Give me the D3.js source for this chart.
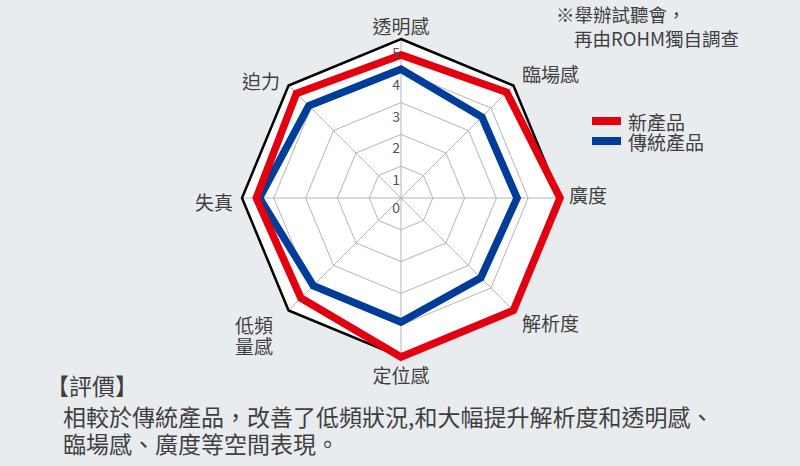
<!DOCTYPE html>
<html>
<head>
<meta charset="utf-8">
<script src="https://cdn.jsdelivr.net/npm/d3@7"></script>
<style>
  body { margin: 0; background: #e9ecef; }
  svg { display: block; font-family: "Noto Sans CJK TC", "Noto Sans", sans-serif; }
</style>
</head>
<body>
<div class="canvas"></div>
<script>
// data
const axes = ["透明感", "臨場感", "廣度", "解析度", "定位感", "低頻\n量感", "失真", "迫力"];
const newProduct = [4.5, 4.7, 5.0, 5.0, 5.0, 4.45, 4.55, 4.65];
const oldProduct = [4.05, 3.6, 3.65, 3.55, 3.9, 3.9, 4.45, 4.1];
const seriesNames = ["新產品", "傳統產品"];
const ticks = [0, 1, 2, 3, 4, 5];
const note = ["※舉辦試聽會，", "再由ROHM獨自調查"];
const comment = [
  "【評價】",
  "相較於傳統產品，改善了低頻狀況,和大幅提升解析度和透明感、",
  "臨場感、廣度等空間表現。"
];

const dims = { width: 800, height: 466, radius: 159 };
const cord = { x: 401, y: 198 };
const colors = { new: "#e3000f", old: "#003d99", grid: "#b4b4b4", text: "#3f3f3f" };

const svg = d3
  .select(".canvas")
  .append("svg")
  .attr("width", dims.width)
  .attr("height", dims.height);

svg.append("rect").attr("width", dims.width).attr("height", dims.height).attr("fill", "#e9ecef");

const group = svg.append("g").attr("transform", `translate(${cord.x}, ${cord.y})`);

const r = d3.scaleLinear().domain([0, 5]).range([0, dims.radius]);
const angle = d3.scalePoint().domain(d3.range(axes.length)).range([0, 2 * Math.PI * (axes.length - 1) / axes.length]);

const radial = d3
  .lineRadial()
  .angle((d, i) => angle(i))
  .radius((d) => r(d))
  .curve(d3.curveLinearClosed);

const polar = (i, rad) => [Math.sin(angle(i)) * rad, -Math.cos(angle(i)) * rad];

// plot area
group.append("path").attr("d", radial(axes.map(() => 5))).attr("fill", "#fff");

// grid rings
group
  .selectAll(".ring")
  .data(ticks.filter((t) => t > 0 && t < 5))
  .enter()
  .append("path")
  .attr("class", "ring")
  .attr("d", (t) => radial(axes.map(() => t)))
  .attr("fill", "none")
  .attr("stroke", colors.grid)
  .attr("stroke-width", 1);

// spokes
group
  .selectAll(".spoke")
  .data(axes)
  .enter()
  .append("line")
  .attr("x1", 0)
  .attr("y1", 0)
  .attr("x2", (d, i) => polar(i, r(5))[0])
  .attr("y2", (d, i) => polar(i, r(5))[1])
  .attr("stroke", colors.grid)
  .attr("stroke-width", 1);

// outer frame
group
  .append("path")
  .attr("d", radial(axes.map(() => 5)))
  .attr("fill", "none")
  .attr("stroke", "#000")
  .attr("stroke-width", 2.5);

// series (old first, new on top)
[
  { values: oldProduct, color: colors.old },
  { values: newProduct, color: colors.new }
].forEach((s) => {
  group
    .append("path")
    .attr("d", radial(s.values))
    .attr("fill", "none")
    .attr("stroke", s.color)
    .attr("stroke-width", 7.5)
    .attr("stroke-linejoin", "miter");
});

// tick labels
group
  .selectAll(".tick")
  .data(ticks)
  .enter()
  .append("text")
  .attr("x", -1)
  .attr("y", (t) => -r(t) + (t === 0 ? 9 : 13))
  .attr("text-anchor", "end")
  .attr("dominant-baseline", "central")
  .attr("font-size", 14)
  .attr("fill", "#555")
  .text((t) => t);

// axis labels
const labels = group
  .selectAll(".axis-label")
  .data(axes)
  .enter()
  .append("text")
  .attr("font-size", 19)
  .attr("fill", colors.text)
  .attr("dominant-baseline", "central")
  .attr("text-anchor", (d, i) => {
    const s = Math.sin(angle(i));
    return Math.abs(s) < 0.01 ? "middle" : s > 0 ? "start" : "end";
  })
  .attr("transform", (d, i) => {
    const s = Math.sin(angle(i));
    const c = Math.cos(angle(i));
    let off = 12;
    if (Math.abs(c) < 0.01) off = 9;
    let [x, y] = polar(i, r(5) + off);
    if (Math.abs(s) < 0.01) y += c > 0 ? -2 : 5;
    else if (s > 0 && c > 0) y -= 4;
    else y += 3;
    // two-line label sits a bit further out
    if (d.includes("\n")) { x -= 7; y += 2; }
    return `translate(${x}, ${y})`;
  });

labels
  .selectAll("tspan")
  .data((d) => d.split("\n"))
  .enter()
  .append("tspan")
  .attr("x", 0)
  .attr("dy", (d, i) => (i === 0 ? 0 : "1.12em"))
  .text((d) => d);

// legend
const legend = svg.append("g").attr("transform", "translate(592, 117)");
[colors.new, colors.old].forEach((c, i) => {
  legend.append("rect").attr("x", 0).attr("y", i * 20).attr("width", 29).attr("height", 8).attr("fill", c);
  legend
    .append("text")
    .attr("x", 36)
    .attr("y", i * 20 + 4)
    .attr("dominant-baseline", "central")
    .attr("font-size", 19)
    .attr("fill", colors.text)
    .text(seriesNames[i]);
});

// note top right
svg
  .selectAll(".note")
  .data(note)
  .enter()
  .append("text")
  .attr("x", (d, i) => (i === 0 ? 556 : 574))
  .attr("y", (d, i) => 14 + i * 24)
  .attr("dominant-baseline", "central")
  .attr("font-size", 18.5)
  .attr("fill", colors.text)
  .text((d) => d);

// comment at the bottom
svg
  .selectAll(".comment")
  .data(comment)
  .enter()
  .append("text")
  .attr("x", (d, i) => (i === 0 ? 46 : 63))
  .attr("y", (d, i) => [385, 416, 443][i])
  .attr("dominant-baseline", "central")
  .attr("font-size", 23)
  .attr("fill", colors.text)
  .text((d) => d);
</script>
</body>
</html>
